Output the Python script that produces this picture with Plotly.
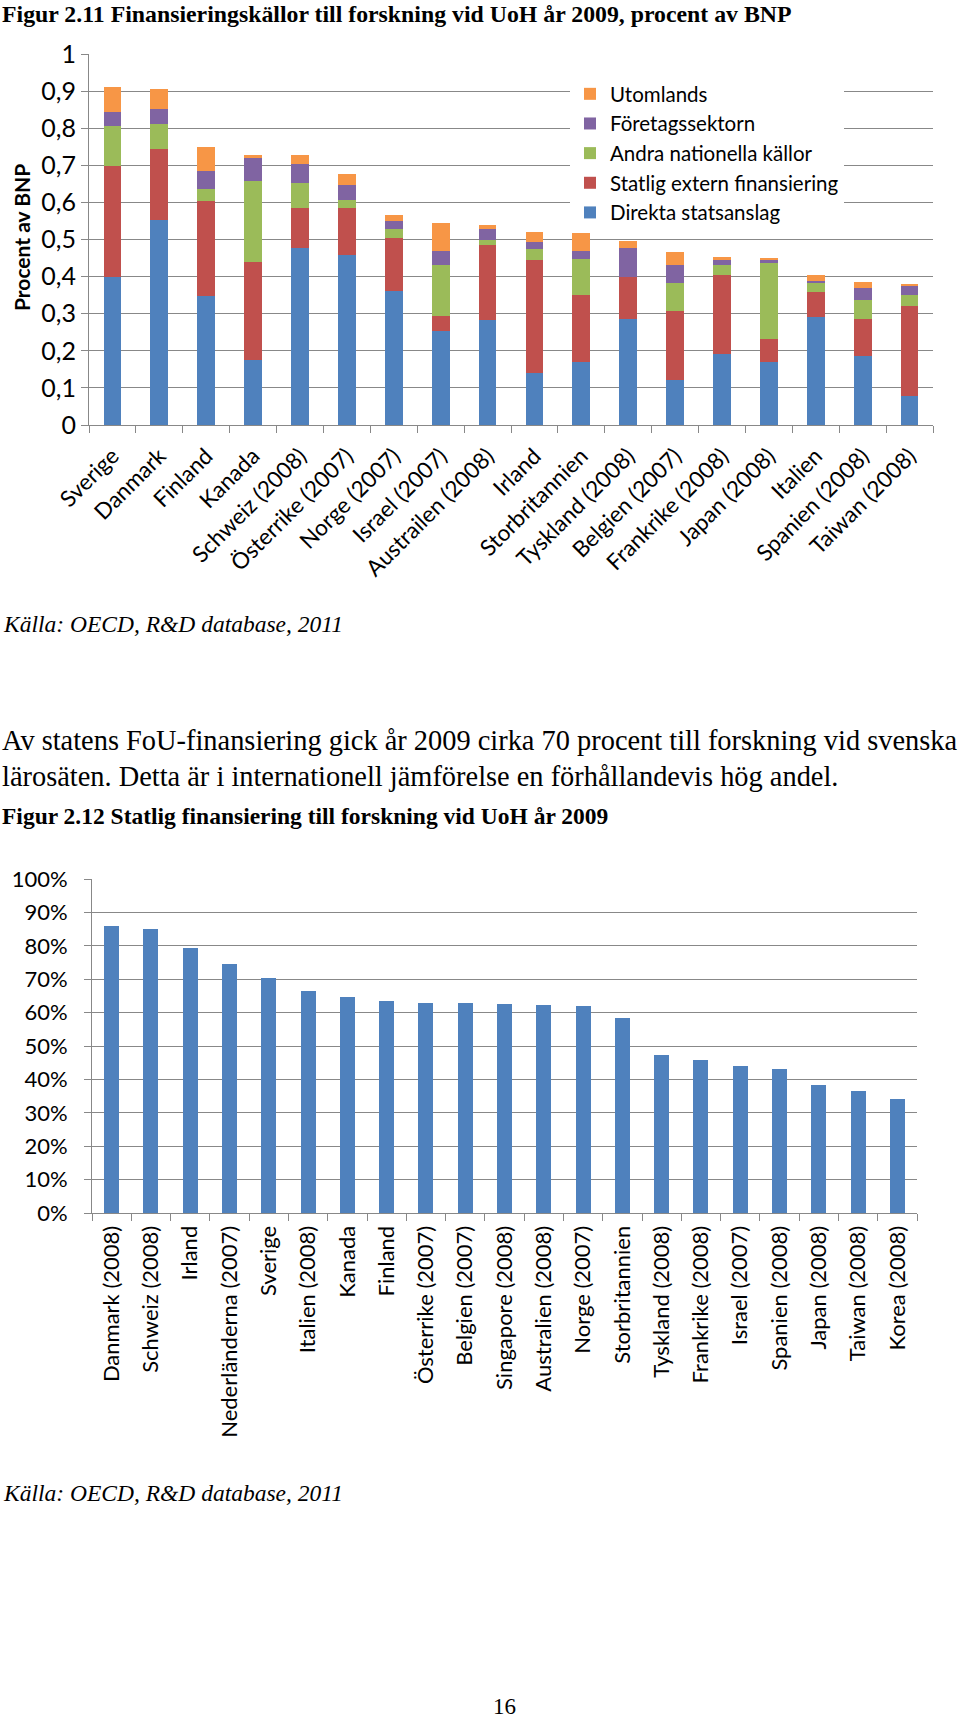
import plotly.graph_objects as go

W, H = 960, 1720

# ---------------- Data: chart 1 (procent av BNP) ----------------
countries1 = ["Sverige", "Danmark", "Finland", "Kanada", "Schweiz (2008)", "Österrike (2007)",
              "Norge (2007)", "Israel (2007)", "Austrailen (2008)", "Irland", "Storbritannien",
              "Tyskland (2008)", "Belgien (2007)", "Frankrike (2008)", "Japan (2008)", "Italien",
              "Spanien (2008)", "Taiwan (2008)"]
direkta = [0.398, 0.553, 0.348, 0.175, 0.477, 0.459, 0.362, 0.254, 0.283, 0.141, 0.171,
           0.285, 0.121, 0.191, 0.171, 0.290, 0.186, 0.078]
statlig = [0.301, 0.190, 0.256, 0.265, 0.108, 0.126, 0.143, 0.040, 0.202, 0.304, 0.179,
           0.115, 0.187, 0.213, 0.061, 0.069, 0.100, 0.243]
andra = [0.107, 0.068, 0.031, 0.219, 0.068, 0.022, 0.022, 0.137, 0.014, 0.029, 0.097,
         0.000, 0.074, 0.026, 0.206, 0.026, 0.051, 0.030]
foretag = [0.039, 0.042, 0.050, 0.062, 0.050, 0.039, 0.024, 0.039, 0.028, 0.018, 0.022,
           0.078, 0.048, 0.015, 0.009, 0.003, 0.031, 0.025]
utomlands = [0.065, 0.053, 0.065, 0.006, 0.024, 0.031, 0.015, 0.074, 0.011, 0.027, 0.050,
             0.018, 0.036, 0.009, 0.004, 0.015, 0.017, 0.002]
series_names = ["Direkta statsanslag", "Statlig extern finansiering", "Andra nationella källor",
                "Företagssektorn", "Utomlands"]
y1_tickvals = [0, 0.1, 0.2, 0.3, 0.4, 0.5, 0.6, 0.7, 0.8, 0.9, 1.0]
y1_ticktext = ["0", "0,1", "0,2", "0,3", "0,4", "0,5", "0,6", "0,7", "0,8", "0,9", "1"]

# ---------------- Data: chart 2 (statlig finansiering, %) ----------------
countries2 = ["Danmark (2008)", "Schweiz (2008)", "Irland", "Nederländerna (2007)", "Sverige",
              "Italien (2008)", "Kanada", "Finland", "Österrike (2007)", "Belgien (2007)",
              "Singapore (2008)", "Australien (2008)", "Norge (2007)", "Storbritannien",
              "Tyskland (2008)", "Frankrike (2008)", "Israel (2007)", "Spanien (2008)",
              "Japan (2008)", "Taiwan (2008)", "Korea (2008)"]
andel = [86.0, 85.1, 79.2, 74.7, 70.4, 66.4, 64.8, 63.5, 63.0, 63.0, 62.7, 62.2, 61.9, 58.4,
         47.4, 45.7, 43.9, 43.1, 38.3, 36.6, 34.1]
y2_tickvals = [0, 10, 20, 30, 40, 50, 60, 70, 80, 90, 100]
y2_ticktext = ["0%", "10%", "20%", "30%", "40%", "50%", "60%", "70%", "80%", "90%", "100%"]

# ---------------- Styles ----------------
colors = ["#4F81BD", "#C0504D", "#9BBB59", "#8064A2", "#F79646"]
GRID = "#888888"
SANS = "Lato"
SERIF = "Liberation Serif"

def px_x(p):
    return p / W

def px_y(p):
    return 1 - p / H

fig = go.Figure()

for name, vals, col in zip(series_names, [direkta, statlig, andra, foretag, utomlands], colors):
    fig.add_trace(go.Bar(x=countries1, y=vals, name=name, marker_color=col,
                         marker_line_width=0, width=0.38, xaxis="x", yaxis="y"))

fig.add_trace(go.Bar(x=countries2, y=andel, marker_color="#4F81BD", marker_line_width=0,
                     width=0.38, showlegend=False, xaxis="x2", yaxis="y2"))

axis_common = dict(showline=True, linecolor=GRID, linewidth=1, ticks="outside",
                   ticklen=7, tickcolor=GRID, tickwidth=1, automargin=False)

fig.update_layout(
    template="none",
    width=W, height=H, margin=dict(l=0, r=0, t=0, b=0, pad=0, autoexpand=False),
    paper_bgcolor="white", plot_bgcolor="white",
    barmode="stack", showlegend=True,
    font=dict(family=SANS, color="black"),
    xaxis=dict(domain=[px_x(89), px_x(933)], anchor="y", type="category",
               tickson="boundaries", tickangle=-45, showgrid=False, ticklabelstandoff=8,
               tickfont=dict(family=SANS, size=22.5, color="black"), **axis_common),
    yaxis=dict(domain=[px_y(425), px_y(54)], anchor="x", range=[0, 1],
               tickvals=y1_tickvals, ticktext=y1_ticktext, showgrid=True,
               gridcolor=GRID, gridwidth=1, zeroline=False,
               tickfont=dict(family=SANS, size=25, color="black"), **axis_common),
    xaxis2=dict(domain=[px_x(92), px_x(917)], anchor="y2", type="category",
                tickson="boundaries", tickangle=-90, showgrid=False, ticklabelstandoff=3,
                tickfont=dict(family=SANS, size=22, color="black"), **axis_common),
    yaxis2=dict(domain=[px_y(1213), px_y(879)], anchor="x2", range=[0, 100],
                tickvals=y2_tickvals, ticktext=y2_ticktext, showgrid=True,
                gridcolor=GRID, gridwidth=1, zeroline=False, ticklabelstandoff=12,
                tickfont=dict(family=SANS, size=22, color="black"), **axis_common),
    legend=dict(x=px_x(570), y=px_y(74), xanchor="left", yanchor="top",
                traceorder="reversed", bgcolor="white", borderwidth=0,
                font=dict(family=SANS, size=20.5, color="black"),
                itemwidth=30, tracegroupgap=0),
)

annotations = [
    dict(text="<b>Figur 2.11 Finansieringskällor till forskning vid UoH år 2009, procent av BNP</b>",
         x=px_x(0), y=px_y(14), font=dict(family=SERIF, size=23.8)),
    dict(text="<i>Källa: OECD, R&amp;D database, 2011</i>",
         x=px_x(1), y=px_y(624), font=dict(family=SERIF, size=23.5)),
    dict(text="Av statens FoU-finansiering gick år 2009 cirka 70 procent till forskning vid svenska",
         x=px_x(0), y=px_y(740), font=dict(family=SERIF, size=28.4)),
    dict(text="lärosäten. Detta är i internationell jämförelse en förhållandevis hög andel.",
         x=px_x(0), y=px_y(776), font=dict(family=SERIF, size=28.4)),
    dict(text="<b>Figur 2.12 Statlig finansiering till forskning vid UoH år 2009</b>",
         x=px_x(0), y=px_y(816), font=dict(family=SERIF, size=23.5)),
    dict(text="<i>Källa: OECD, R&amp;D database, 2011</i>",
         x=px_x(1), y=px_y(1493), font=dict(family=SERIF, size=23.5)),
]
for a in annotations:
    fig.add_annotation(xref="paper", yref="paper", xanchor="left", yanchor="middle",
                       showarrow=False, font_color="black", **a)

fig.add_annotation(text="<b>Procent av BNP</b>", xref="paper", yref="paper",
                   x=px_x(21), y=px_y(238), xanchor="center", yanchor="middle",
                   textangle=-90, showarrow=False,
                   font=dict(family=SANS, size=21, color="black"))
fig.add_annotation(text="16", xref="paper", yref="paper", x=px_x(505), y=px_y(1706),
                   xanchor="center", yanchor="middle", showarrow=False,
                   font=dict(family=SERIF, size=23, color="black"))

fig.write_html("out.html", config={"displayModeBar": False},
               post_script="document.body.style.margin='0';")
